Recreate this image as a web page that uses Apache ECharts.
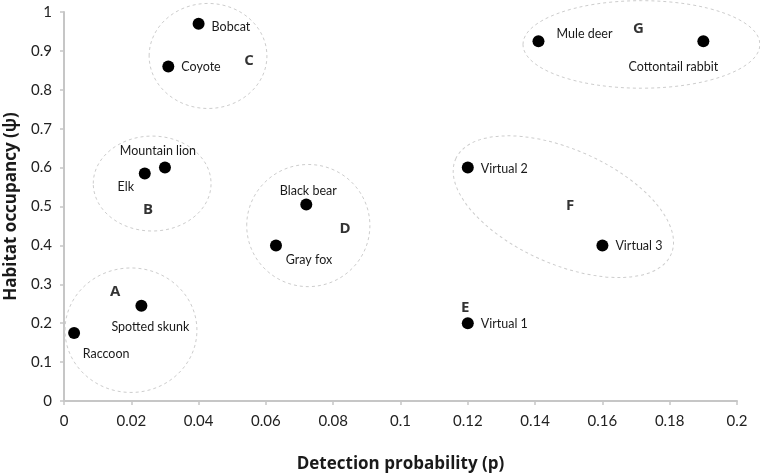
<!DOCTYPE html>
<html>
<head>
<meta charset="utf-8">
<script src="https://cdn.jsdelivr.net/npm/echarts@6/dist/echarts.min.js"></script>
<style>
html,body{margin:0;padding:0;background:#fff;}
#chart{width:760px;height:473px;}
</style>
</head>
<body>
<div id="chart"></div>
<script>
// Species points
var species = ['Raccoon','Spotted skunk','Elk','Mountain lion','Coyote','Bobcat','Gray fox','Black bear','Virtual 1','Virtual 2','Virtual 3','Mule deer','Cottontail rabbit'];
var detectionP = [0.003, 0.023, 0.024, 0.030, 0.031, 0.040, 0.063, 0.072, 0.120, 0.120, 0.160, 0.141, 0.190];
var occupancyPsi = [0.175, 0.245, 0.585, 0.600, 0.860, 0.970, 0.400, 0.505, 0.200, 0.600, 0.400, 0.925, 0.925];

// Group labels
var groupNames = ['A','B','C','D','E','F','G'];
var groupX = [0.0152, 0.0250, 0.0550, 0.0835, 0.1192, 0.1504, 0.1707];
var groupY = [0.280, 0.491, 0.875, 0.442, 0.239, 0.501, 0.957];

// Group ellipses (centre, semi-axes in data units, tilt in degrees)
var ellipseCx = [0.0199, 0.0262, 0.0428, 0.0726, 0.1484, 0.1716];
var ellipseCy = [0.182, 0.559, 0.887, 0.451, 0.4995, 0.9166];
var ellipseRx = [0.0196, 0.0175, 0.0175, 0.0183, 0.0350, 0.0352];
var ellipseRy = [0.160, 0.122, 0.135, 0.157, 0.1473, 0.1125];
var ellipseTilt = [0, 0, 0, 0, 23.9, 0];

// Tick labels
var xTicks = ['0','0.02','0.04','0.06','0.08','0.1','0.12','0.14','0.16','0.18','0.2'];
var yTicks = ['0','0.1','0.2','0.3','0.4','0.5','0.6','0.7','0.8','0.9','1'];

// label placement per species (style only)
var labelStyle = {
  'Raccoon': {offset:[32,21]},
  'Spotted skunk': {offset:[9,21]},
  'Elk': {offset:[-19,14]},
  'Mountain lion': {offset:[-7,-17]},
  'Coyote': {offset:[0,1], position:'right'},
  'Bobcat': {offset:[0,3], position:'right'},
  'Gray fox': {offset:[33,15]},
  'Black bear': {offset:[2,-14]},
  'Virtual 1': {offset:[0,1], position:'right'},
  'Virtual 2': {offset:[0,1], position:'right'},
  'Virtual 3': {offset:[0,1], position:'right'},
  'Mule deer': {offset:[46,-7]},
  'Cottontail rabbit': {offset:[-30,26]}
};

var pointData = species.map(function(n,i){
  var s = labelStyle[n];
  var lab = {show:true, formatter:n};
  if (s.position === 'right') { lab.position = 'right'; lab.distance = 7; lab.offset = s.offset; }
  else { lab.position = 'inside'; lab.offset = s.offset; lab.align = 'center'; }
  return {value:[detectionP[i], occupancyPsi[i]], name:n, label:lab};
});

var groupData = groupNames.map(function(g,i){ return {value:[groupX[i], groupY[i]], name:g}; });

var ellipseData = ellipseCx.map(function(c,i){ return [c, ellipseCy[i], ellipseRx[i], ellipseRy[i], ellipseTilt[i]]; });

var font = 'Lato, "Open Sans", sans-serif';

var chart = echarts.init(document.getElementById('chart'), null, {renderer:'canvas'});
chart.setOption({
  animation:false,
  backgroundColor:'#ffffff',
  grid:{left:64, right:23, top:12, bottom:72, containLabel:false, outerBoundsMode:'none'},
  xAxis:{
    type:'value', min:0, max:0.2, interval:0.02,
    name:'Detection probability (p)', nameLocation:'middle', nameGap:55,
    nameTextStyle:{fontFamily:'"Open Sans", sans-serif', fontWeight:'bold', fontSize:17, color:'#1a1a1a'},
    axisLine:{show:true, onZero:false, lineStyle:{color:'#c6c6c6', width:2}},
    axisTick:{show:true, length:4, lineStyle:{color:'#c6c6c6', width:1.5}},
    axisLabel:{fontFamily:font, fontSize:15, color:'#222', margin:13,
      formatter:function(v){ var i=Math.round(v/0.02); return xTicks[i]; }},
    splitLine:{show:false}
  },
  yAxis:{
    type:'value', min:0, max:1, interval:0.1,
    name:'Habitat occupancy (\u03c8)', nameLocation:'middle', nameGap:44, nameRotate:90,
    nameTextStyle:{fontFamily:'"Open Sans", sans-serif', fontWeight:'bold', fontSize:17, color:'#1a1a1a'},
    axisLine:{show:true, onZero:false, lineStyle:{color:'#c6c6c6', width:2}},
    axisTick:{show:true, length:4, lineStyle:{color:'#c6c6c6', width:1.5}},
    axisLabel:{fontFamily:font, fontSize:15, color:'#222', margin:12,
      formatter:function(v){ var i=Math.round(v/0.1); return yTicks[i]; }},
    splitLine:{show:false}
  },
  series:[
    {
      type:'custom', coordinateSystem:'cartesian2d', silent:true, z:1,
      data:ellipseData,
      encode:{x:0, y:1},
      clip:false,
      renderItem:function(params, api){
        var c = api.coord([api.value(0), api.value(1)]);
        var rx = api.size([api.value(2), 0])[0];
        var ry = api.size([0, api.value(3)])[1];
        var tilt = api.value(4);
        return {
          type:'ellipse', x:c[0], y:c[1], rotation:-tilt*Math.PI/180,
          shape:{cx:0, cy:0, rx:rx, ry:ry},
          style:{fill:null, stroke:'#cdcdcd', lineWidth:1, lineDash:[3,3]}
        };
      }
    },
    {
      type:'scatter', z:3, symbol:'circle', symbolSize:12,
      itemStyle:{color:'#000', opacity:1},
      label:{fontFamily:font, fontSize:12.5, color:'#1a1a1a'},
      data:pointData
    },
    {
      type:'scatter', z:3, symbol:'circle', symbolSize:1,
      itemStyle:{color:'rgba(0,0,0,0)'},
      label:{show:true, position:'inside', formatter:'{b}', fontFamily:'"Open Sans", sans-serif', fontWeight:'bold', fontSize:15, color:'#000'},
      data:groupData
    }
  ]
});
</script>
</body>
</html>
